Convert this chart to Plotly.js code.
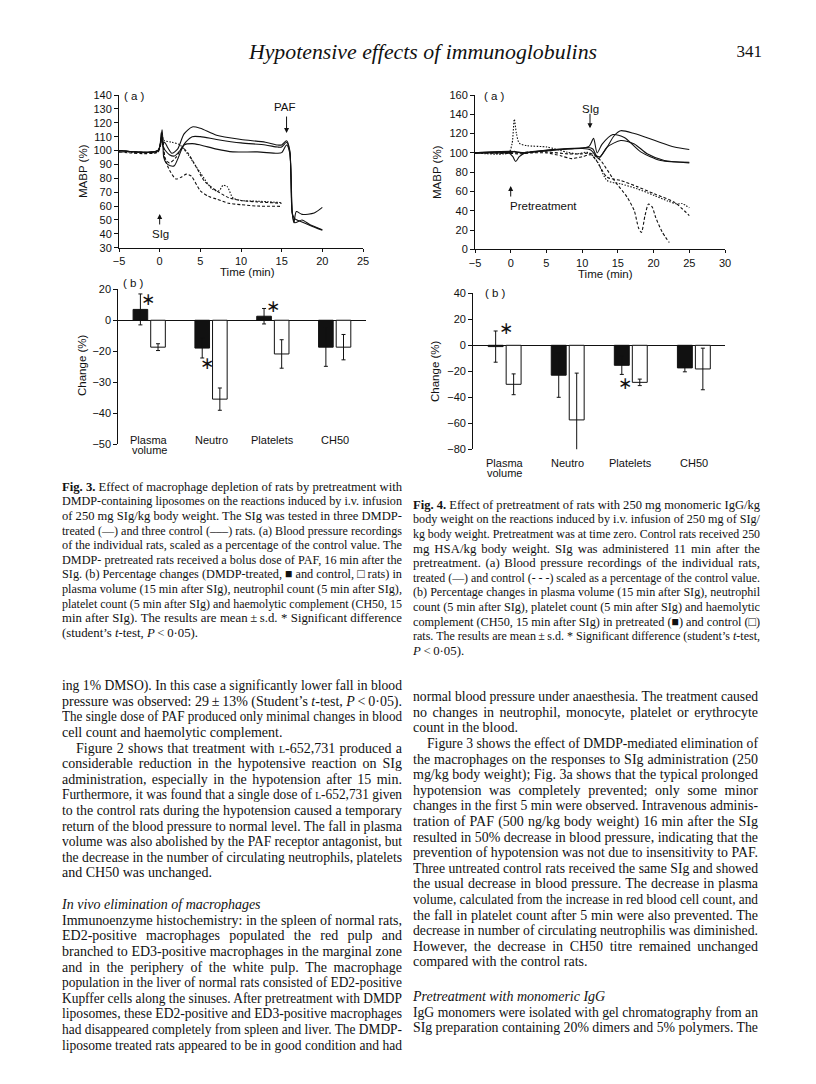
<!DOCTYPE html>
<html>
<head>
<meta charset="utf-8">
<script src="https://cdn.plot.ly/plotly-3.0.1.min.js"></script>
<style>
html, body { margin: 0; padding: 0; background: #fff; }
#page { position: relative; width: 816px; height: 1084px; overflow: hidden; }
#chart { position: absolute; left: 0; top: 0; width: 816px; height: 1084px; }
.ln { position: absolute; white-space: nowrap; font-family: "Liberation Serif", "Times New Roman", serif; color: #111; }
</style>
</head>
<body>
<div id="page"><div id="chart"></div></div>
<script>
// ---- Fig. 3a : MABP (%) of DMDP-treated (solid) and control (dashed) rats ----
var f3a_dmdp1_t = [-5, -0.2, 0.2, 0.35, 0.6, 1.0, 1.5, 2.2, 3.0, 4.0, 5.0, 7.0, 10.0, 13.0, 14.5, 15.0, 15.6, 16.0, 16.3, 16.6, 17.5, 18.5, 20.0];
var f3a_dmdp1_v = [100, 100, 113, 104, 106, 102, 98, 101, 112, 117, 116, 111, 108, 106, 104, 104, 107, 100, 55, 48, 50, 46.5, 43];
var f3a_dmdp2_t = [-5, -0.2, 0.25, 0.4, 0.7, 1.2, 1.8, 2.5, 3.2, 4.0, 5.0, 7.0, 10.0, 13.0, 14.5, 15.0, 15.6, 16.0, 16.3, 16.6, 17.5, 18.5, 20.0];
var f3a_dmdp2_v = [100, 100, 110, 103, 100, 97, 96, 100, 106, 110, 110, 108, 105.5, 104, 102.5, 102.5, 106, 99, 55, 51, 48.5, 46, 42.5];
var f3a_dmdp3_t = [-5, -0.2, 0.3, 0.5, 0.8, 1.3, 1.8, 2.3, 3.0, 4.0, 5.0, 7.0, 9.0, 12.0, 14.5, 15.0, 15.6, 16.0, 16.3, 16.5, 16.8, 17.5, 19.0, 20.0];
var f3a_dmdp3_v = [100, 100, 115, 95, 91, 89, 89, 95, 104, 105, 104, 101, 99, 99, 98, 98.5, 104, 98, 55, 48, 56, 54, 55, 59];
var f3a_ctrl1_t = [-5, -1, -0.2, 0.3, 0.6, 1.5, 2.5, 3.5, 5.0, 6.5, 7.3, 7.8, 8.3, 9.0, 10.0, 12.0, 15.0];
var f3a_ctrl1_v = [99, 98.5, 99, 108, 107, 106, 104, 97, 84, 72, 71, 75, 74, 66, 64, 63.5, 62.5];
var f3a_ctrl2_t = [-5, -0.2, 0.3, 0.7, 1.2, 2.0, 2.8, 3.5, 4.5, 5.5, 7.0, 8.5, 10, 12, 15];
var f3a_ctrl2_v = [100, 100, 112, 94, 91, 95, 102, 98, 88, 78, 71, 66, 64, 63, 62];
var f3a_ctrl3_t = [-5, -0.2, 0.3, 0.6, 1.2, 2.0, 2.7, 3.3, 3.9, 5.0, 6.0, 7.0, 8.5, 10, 12, 15];
var f3a_ctrl3_v = [99, 99, 110, 95, 86, 79.5, 81, 83, 81.5, 71, 67, 65, 62, 61, 60, 59.8];

// ---- Fig. 3b : change (%) ; the printed tick labels (20, 0, -20, -30 ...) are evenly spaced,
// so values are kept in tick steps of 10 and the printed labels are shown as tick text ----
var barCategories = ['Plasma volume', 'Neutro', 'Platelets', 'CH50'];
var barCategoryLines = [['Plasma', 'volume'], ['Neutro'], ['Platelets'], ['CH50']];
var f3b_dmdp = [3.5, -9.0, 1.3, -8.7];
var f3b_dmdp_sd = [5, 3.2, 2.5, 6.2];
var f3b_ctrl = [-8.7, -25.5, -10.9, -8.7];
var f3b_ctrl_sd = [1.1, 3.6, 4.6, 4.1];
var f3b_tickvals = [10, 0, -10, -20, -30, -40];
var f3b_ticktext = ['20', '0', '\u221220', '\u221230', '\u221240', '\u221250'];

// ---- Fig. 4a : MABP (%) of IgG-pretreated (solid) and HSA control (dashed) rats ----
var f4a_igg1_t = [-5, -0.5, 0, 0.5, 1, 2, 5, 8, 10, 10.8, 11.5, 12.0, 12.5, 13.5, 14.5, 15.4, 17.3, 20.1, 22.9, 25];
var f4a_igg1_v = [100, 100, 100.5, 101.5, 100.5, 100, 102, 104, 105, 105.5, 104, 97, 96, 106, 118, 123, 120, 113, 106, 103.5];
var f4a_igg2_t = [-5, -0.3, 0.3, 0.7, 1.2, 2, 5, 8, 10, 11.0, 11.6, 12.1, 12.8, 14.3, 15.9, 18.2, 21, 25];
var f4a_igg2_v = [100, 100, 96, 91, 96, 100, 102.5, 104.5, 105, 107, 115, 100, 109, 119, 116, 101, 92, 90.3];
var f4a_igg3_t = [-5, 0, 2, 5, 8, 10, 11.2, 11.8, 12.3, 13.5, 15.4, 17.3, 19.1, 21.5, 25];
var f4a_igg3_v = [100, 101.5, 100, 103, 104, 104.5, 103, 98, 94, 106, 112.8, 109.3, 99, 92, 89.6];
var f4a_hsa1_t = [-5, -0.3, 0.2, 0.5, 0.8, 1.2, 2.3, 5.1, 7.9, 9.3, 10.7, 11.5, 12.2, 13.5, 15.4, 17.7, 20.1, 22.0, 23.3, 24.0, 25];
var f4a_hsa1_v = [100, 100, 110, 135, 120, 110, 107.5, 106, 100.7, 99, 100.7, 97, 90, 71.3, 67.9, 62.7, 55.8, 50, 47, 47.5, 43];
var f4a_hsa2_t = [-5, 0, 1, 3, 5, 7, 8.5, 10, 11.2, 12, 13.5, 15.4, 17.7, 20.1, 22.9, 25];
var f4a_hsa2_v = [100, 99.5, 99, 100, 100, 97, 94, 96, 98, 92, 74.8, 71.3, 65, 57.5, 48.9, 35];
var f4a_hsa3_t = [-5, 0, 1, 3, 5, 8, 10, 11, 11.8, 12.6, 14.5, 16.3, 17.3, 17.9, 18.3, 18.8, 19.3, 19.8, 20.3, 21.2, 22.2];
var f4a_hsa3_v = [100, 100, 100, 101, 101, 99, 99, 100, 97, 92, 71.3, 54, 40, 22, 17.5, 35, 47, 44, 33, 18, 7];

// ---- Fig. 4b : change (%) ----
var f4b_pre = [-1, -23, -15.4, -17.4];
var f4b_pre_sd = [12, 17, 7, 3];
var f4b_ctrl = [-30, -57.4, -28.5, -18.2];
var f4b_ctrl_sd = [8, 36, 2.5, 16];

var W = 816, H = 1084;
function px(x) { return x / W; }
function py(y) { return 1 - y / H; }

var ink = '#111';
var axFont = {family: 'Liberation Sans, Arial, sans-serif', size: 11, color: ink};
var titleFont = {family: 'Liberation Sans, Arial, sans-serif', size: 11.5, color: ink};

function curve(t, v, dash, xa, ya) {
  return {x: t, y: v, xaxis: xa, yaxis: ya, type: 'scatter', mode: 'lines',
    line: {color: ink, width: 1.1, dash: dash, shape: 'spline', smoothing: 0.7},
    hoverinfo: 'skip', showlegend: false};
}
function bars(y, sd, filled, xa, ya) {
  return {x: barCategories, y: y, xaxis: xa, yaxis: ya, type: 'bar',
    marker: {color: filled ? ink : '#fff', line: {color: ink, width: 1}},
    error_y: {type: 'data', array: sd, color: ink, thickness: 1, width: 2},
    hoverinfo: 'skip', showlegend: false};
}

var dashed = '3px,2px', dotted = '1.5px,1.5px';
var data = [
  curve(f3a_dmdp1_t, f3a_dmdp1_v, 'solid', 'x', 'y'),
  curve(f3a_dmdp2_t, f3a_dmdp2_v, 'solid', 'x', 'y'),
  curve(f3a_dmdp3_t, f3a_dmdp3_v, 'solid', 'x', 'y'),
  curve(f3a_ctrl1_t, f3a_ctrl1_v, dotted, 'x', 'y'),
  curve(f3a_ctrl2_t, f3a_ctrl2_v, dashed, 'x', 'y'),
  curve(f3a_ctrl3_t, f3a_ctrl3_v, dashed, 'x', 'y'),
  bars(f3b_dmdp, f3b_dmdp_sd, true, 'x2', 'y2'),
  bars(f3b_ctrl, f3b_ctrl_sd, false, 'x2', 'y2'),
  curve(f4a_igg1_t, f4a_igg1_v, 'solid', 'x3', 'y3'),
  curve(f4a_igg2_t, f4a_igg2_v, 'solid', 'x3', 'y3'),
  curve(f4a_igg3_t, f4a_igg3_v, 'solid', 'x3', 'y3'),
  curve(f4a_hsa1_t, f4a_hsa1_v, dotted, 'x3', 'y3'),
  curve(f4a_hsa2_t, f4a_hsa2_v, dashed, 'x3', 'y3'),
  curve(f4a_hsa3_t, f4a_hsa3_v, dashed, 'x3', 'y3'),
  bars(f4b_pre, f4b_pre_sd, true, 'x4', 'y4'),
  bars(f4b_ctrl, f4b_ctrl_sd, false, 'x4', 'y4')
];

function lineAxis(domain, range, dtick, extra) {
  var a = {domain: domain, range: range, dtick: dtick, tick0: range[0], showgrid: false, zeroline: false,
    showline: true, linecolor: ink, linewidth: 1, ticks: 'outside', ticklen: 4, tickwidth: 1,
    tickcolor: ink, tickfont: axFont, fixedrange: true};
  for (var k in extra) a[k] = extra[k];
  return a;
}
function catAxis(domain, anchor) {
  return {domain: domain, type: 'category', range: [-0.5, 3.5], anchor: anchor, showline: false,
    showgrid: false, zeroline: false, ticks: '', showticklabels: false, fixedrange: true};
}

var ann = [];
function label(text, x, y, opts) {
  var a = {text: text, xref: 'paper', yref: 'paper', x: px(x), y: py(y), showarrow: false,
    xanchor: 'center', yanchor: 'middle', font: titleFont};
  for (var k in opts) a[k] = opts[k];
  ann.push(a);
}
function arrow(xref, yref, x, y, ay) {
  ann.push({text: '', xref: xref, yref: yref, x: x, y: y, ax: 0, ay: ay, showarrow: true,
    arrowhead: 2, arrowsize: 1, arrowwidth: 1, arrowcolor: ink});
}

// axis titles, panel letters, arrows
label('MABP (%)', 83, 171, {textangle: -90});
label('Time (min)', 248, 272);
label('( a )', 134, 96);
label('( b )', 133, 283);
label('Change (%)', 82, 365, {textangle: -90});
label('PAF', 285, 107);
arrow('x', 'y', 15.6, 112.6, -18);
label('SIg', 160, 234);
arrow('x', 'y', 0, 54.3, 12);

label('MABP (%)', 437, 172, {textangle: -90});
label('Time (min)', 605, 274);
label('( a )', 495, 96);
label('( b )', 496, 293);
label('Change (%)', 435, 371, {textangle: -90});
label('SIg', 590, 109);
arrow('x3', 'y3', 11.1, 125.5, -16);
label('Pretreatment', 508, 206, {xanchor: 'left'});
arrow('x3', 'y3', 0, 65.6, 12);

// category labels under the bar panels
function catLabels(xref, y0) {
  barCategoryLines.forEach(function (lines, i) {
    lines.forEach(function (t, j) {
      ann.push({text: t, xref: xref, yref: 'paper', x: i, y: py(y0 + j * 10), showarrow: false,
        xanchor: 'center', yanchor: 'middle', font: axFont});
    });
  });
}
catLabels('x2', 440);
catLabels('x4', 463);

// significance marks
function star(xref, x, y) {
  ann.push({text: '\u2217', xref: xref, yref: 'paper', x: x, y: py(y), showarrow: false,
    xanchor: 'center', yanchor: 'middle', font: {family: 'DejaVu Sans', size: 17, color: ink}});
}
star('x2', -0.02, 299);
star('x2', 0.93, 363);
star('x2', 2.0, 306);
star('x4', 0.02, 328);
star('x4', 1.91, 383);

var layout = {
  width: W, height: H, margin: {l: 0, r: 0, t: 0, b: 0},
  paper_bgcolor: '#fff', plot_bgcolor: 'rgba(0,0,0,0)', showlegend: false,
  barmode: 'group', bargap: 0.43, bargroupgap: 0.17,
  xaxis: lineAxis([px(119), px(363)], [-5, 25], 5, {anchor: 'y', ticklen: 3}),
  yaxis: lineAxis([py(247.7), py(95)], [30, 140], 10, {anchor: 'x'}),
  xaxis2: catAxis([px(118.3), px(365.6)], 'y2'),
  yaxis2: lineAxis([py(444), py(289.3)], [-40, 10], 10, {anchor: 'x2', tickmode: 'array',
    tickvals: f3b_tickvals, ticktext: f3b_ticktext, zeroline: true, zerolinecolor: ink, zerolinewidth: 1}),
  xaxis3: lineAxis([px(475), px(725)], [-5, 30], 5, {anchor: 'y3', ticklen: 3}),
  yaxis3: lineAxis([py(249.3), py(95)], [0, 160], 20, {anchor: 'x3'}),
  xaxis4: catAxis([px(473.1), px(725.4)], 'y4'),
  yaxis4: lineAxis([py(449.3), py(293.3)], [-80, 40], 20, {anchor: 'x4',
    zeroline: true, zerolinecolor: ink, zerolinewidth: 1}),
  annotations: ann
};

Plotly.newPlot('chart', data, layout, {staticPlot: true, displayModeBar: false});

// ---- page text, one entry per printed line ('|' = last line of a paragraph, '>' = indent) ----
var lcap = '<span style="font-variant:small-caps">l</span>';
var blocks = [
  {x: 62, y: 487, w: 340, lh: 14.6, size: 12.8, lines: [
    '<b>Fig. 3.</b> Effect of macrophage depletion of rats by pretreatment with',
    'DMDP-containing liposomes on the reactions induced by i.v. infusion',
    'of 250 mg SIg/kg body weight. The SIg was tested in three DMDP-',
    'treated (\u2014) and three control (\u2013\u2013\u2013) rats. (a) Blood pressure recordings',
    'of the individual rats, scaled as a percentage of the control value. The',
    'DMDP- pretreated rats received a bolus dose of PAF, 16 min after the',
    'SIg. (b) Percentage changes (DMDP-treated, \u25A0 and control, \u25A1 rats) in',
    'plasma volume (15 min after SIg), neutrophil count (5 min after SIg),',
    'platelet count (5 min after SIg) and haemolytic complement (CH50, 15',
    'min after SIg). The results are mean\u2009\u00B1\u2009s.d. * Significant difference',
    '|(student\u2019s <i>t</i>-test, <i>P</i>\u2009<\u20090\u00B705).']},
  {x: 413, y: 505, w: 347, lh: 14.6, size: 12.8, lines: [
    '<b>Fig. 4.</b> Effect of pretreatment of rats with 250 mg monomeric IgG/kg',
    'body weight on the reactions induced by i.v. infusion of 250 mg of SIg/',
    'kg body weight. Pretreatment was at time zero. Control rats received 250',
    'mg HSA/kg body weight. SIg was administered 11 min after the',
    'pretreatment. (a) Blood pressure recordings of the individual rats,',
    'treated (\u2014) and control (- - -) scaled as a percentage of the control value.',
    '(b) Percentage changes in plasma volume (15 min after SIg), neutrophil',
    'count (5 min after SIg), platelet count (5 min after SIg) and haemolytic',
    'complement (CH50, 15 min after SIg) in pretreated (\u25A0) and control (\u25A1)',
    'rats. The results are mean\u2009\u00B1\u2009s.d. * Significant difference (student\u2019s <i>t</i>-test,',
    '|<i>P</i>\u2009<\u20090\u00B705).']},
  {x: 62, y: 686, w: 340, lh: 15.6, size: 14, lines: [
    'ing 1% DMSO). In this case a significantly lower fall in blood',
    'pressure was observed: 29\u2009\u00B1\u200913% (Student\u2019s <i>t</i>-test, <i>P</i>\u2009<\u20090\u00B705).',
    'The single dose of PAF produced only minimal changes in blood',
    '|cell count and haemolytic complement.',
    '>Figure 2 shows that treatment with ' + lcap + '-652,731 produced a',
    'considerable reduction in the hypotensive reaction on SIg',
    'administration, especially in the hypotension after 15 min.',
    'Furthermore, it was found that a single dose of ' + lcap + '-652,731 given',
    'to the control rats during the hypotension caused a temporary',
    'return of the blood pressure to normal level. The fall in plasma',
    'volume was also abolished by the PAF receptor antagonist, but',
    'the decrease in the number of circulating neutrophils, platelets',
    '|and CH50 was unchanged.']},
  {x: 62, y: 905, w: 340, lh: 15.6, size: 14, lines: [
    '|<i>In vivo elimination of macrophages</i>',
    'Immunoenzyme histochemistry: in the spleen of normal rats,',
    'ED2-positive macrophages populated the red pulp and',
    'branched to ED3-positive macrophages in the marginal zone',
    'and in the periphery of the white pulp. The macrophage',
    'population in the liver of normal rats consisted of ED2-positive',
    'Kupffer cells along the sinuses. After pretreatment with DMDP',
    'liposomes, these ED2-positive and ED3-positive macrophages',
    'had disappeared completely from spleen and liver. The DMDP-',
    'liposome treated rats appeared to be in good condition and had']},
  {x: 413, y: 697, w: 345, lh: 15.6, size: 14, lines: [
    'normal blood pressure under anaesthesia. The treatment caused',
    'no changes in neutrophil, monocyte, platelet or erythrocyte',
    '|count in the blood.',
    '>Figure 3 shows the effect of DMDP-mediated elimination of',
    'the macrophages on the responses to SIg administration (250',
    'mg/kg body weight); Fig. 3a shows that the typical prolonged',
    'hypotension was completely prevented; only some minor',
    'changes in the first 5 min were observed. Intravenous adminis-',
    'tration of PAF (500 ng/kg body weight) 16 min after the SIg',
    'resulted in 50% decrease in blood pressure, indicating that the',
    'prevention of hypotension was not due to insensitivity to PAF.',
    'Three untreated control rats received the same SIg and showed',
    'the usual decrease in blood pressure. The decrease in plasma',
    'volume, calculated from the increase in red blood cell count, and',
    'the fall in platelet count after 5 min were also prevented. The',
    'decrease in number of circulating neutrophilis was diminished.',
    'However, the decrease in CH50 titre remained unchanged',
    '|compared with the control rats.']},
  {x: 413, y: 997, w: 345, lh: 15.6, size: 14, lines: [
    '|<i>Pretreatment with monomeric IgG</i>',
    'IgG monomers were isolated with gel chromatography from an',
    'SIg preparation containing 20% dimers and 5% polymers. The']}
];

var page = document.getElementById('page');
var made = [];
blocks.forEach(function (b) {
  b.lines.forEach(function (s, i) {
    var end = false, ind = 0;
    if (s.charAt(0) === '|') { end = true; s = s.slice(1); }
    if (s.charAt(0) === '>') { ind = 14; s = s.slice(1); }
    var d = document.createElement('div');
    d.className = 'ln';
    d.style.left = (b.x + ind) + 'px';
    d.style.top = (b.y + i * b.lh - b.lh / 2) + 'px';
    d.style.width = (b.w - ind) + 'px';
    d.style.lineHeight = b.lh + 'px';
    d.style.fontSize = b.size + 'px';
    d.innerHTML = '<span>' + s + '</span>';
    page.appendChild(d);
    made.push({d: d, w: b.w - ind, end: end});
  });
});

// header
function head(text, left, top, size, italic, align, width) {
  var d = document.createElement('div');
  d.className = 'ln';
  d.style.left = left + 'px'; d.style.top = top + 'px';
  d.style.width = width + 'px'; d.style.textAlign = align;
  d.style.fontSize = size + 'px'; d.style.lineHeight = '24px';
  if (italic) d.style.fontStyle = 'italic';
  d.textContent = text;
  page.appendChild(d);
}
head('Hypotensive effects of immunoglobulins', 223, 40, 21.8, true, 'center', 400);
head('341', 700, 40, 17, false, 'right', 62);

// fit each printed line to its column: justify short lines, squeeze long ones
function fit() {
  made.forEach(function (m) {
    var d = m.d, sp = d.firstChild;
    d.style.textAlign = 'left';
    var w = sp.getBoundingClientRect().width;
    if (w > m.w) {
      d.style.width = w + 'px';
      d.style.transformOrigin = 'left center';
      d.style.transform = 'scaleX(' + (m.w / w) + ')';
    } else if (!m.end) {
      d.style.textAlign = 'justify';
      d.style.textAlignLast = 'justify';
    }
  });
}
if (document.fonts && document.fonts.ready) document.fonts.ready.then(fit); else fit();
</script>
</body>
</html>
